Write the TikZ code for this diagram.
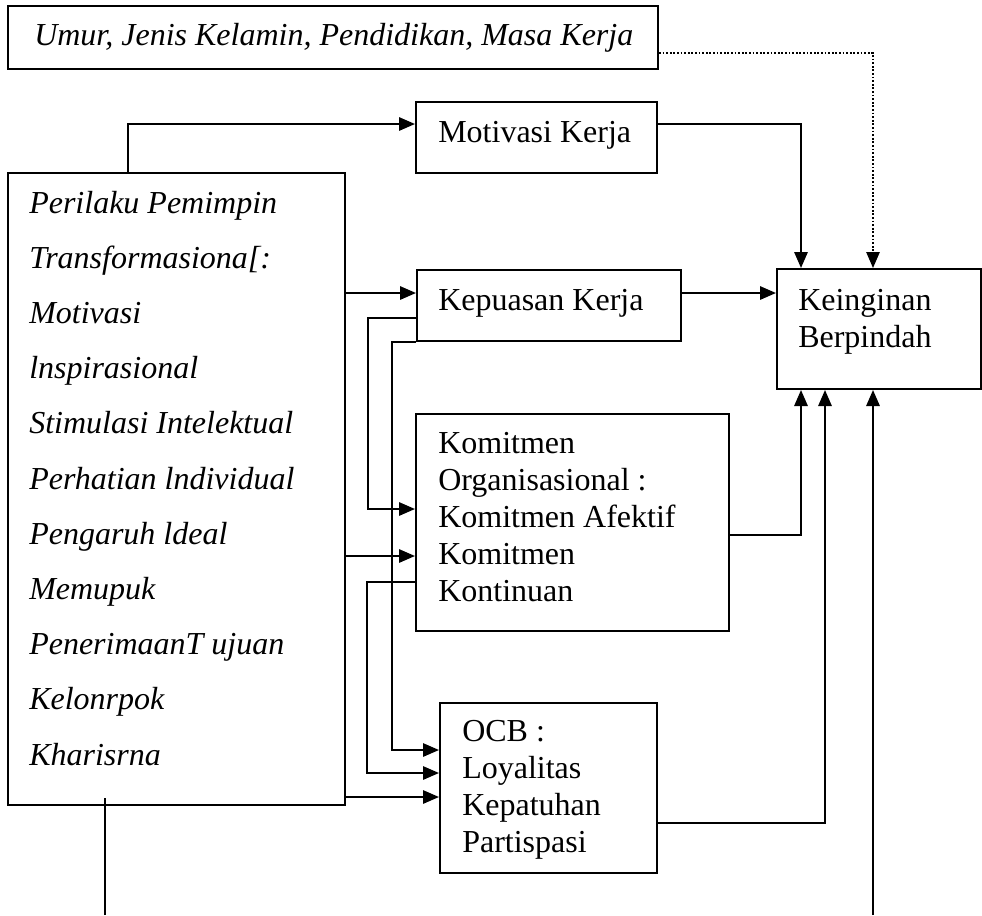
\documentclass[tikz,border=0pt]{standalone}
\usepackage{fontspec}
\setmainfont{Liberation Serif}
\usetikzlibrary{arrows.meta,fit,calc}
\begin{document}
\begin{tikzpicture}[x=0.75pt,y=-0.75pt,
  box/.style={draw, line width=1.5pt, inner sep=0pt},
  txt/.style={anchor=base west, inner sep=0pt, font=\fontsize{24}{27.75}\selectfont},
  itxt/.style={anchor=base west, inner sep=0pt, font=\fontsize{24}{41.4}\selectfont\itshape},
  arr/.style={line width=1.5pt, -{Triangle[length=12pt,width=10pt]}},
  ln/.style={line width=1.5pt},
  dots/.style={line width=1.3pt, dash pattern=on 1.3pt off 1.4pt}]
\useasboundingbox (0,0) rectangle (982,915);

% boxes
\node[box, fit={(8,6)(658,69)}] (top) {};
\node[box, fit={(416,102)(657,173)}] (mot) {};
\node[box, fit={(417,270)(681,341)}] (kep) {};
\node[box, fit={(416,414)(729,631)}] (kom) {};
\node[box, fit={(440,703)(657,873)}] (ocb) {};
\node[box, fit={(777,269)(981,389)}] (kei) {};
\node[box, fit={(8,173)(345,805)}] (left) {};

% texts
\node[txt, font=\fontsize{24}{27.75}\selectfont\itshape] (toptxt) at (34,45) {Umur, Jenis Kelamin, Pendidikan, Masa Kerja};
\node[txt] (mottxt) at (438,142) {Motivasi Kerja};
\node[txt] (keptxt) at (438,310) {Kepuasan Kerja};
\node[txt] (komtxt) at (438,453) {\parbox[t]{280pt}{Komitmen\\Organisasional :\\Komitmen Afektif\\Komitmen\\Kontinuan}};
\node[txt] (ocbtxt) at (462,741) {\parbox[t]{150pt}{OCB :\\Loyalitas\\Kepatuhan\\Partispasi}};
\node[txt] (keitxt) at (798,310) {\parbox[t]{150pt}{Keinginan\\Berpindah}};
\node[itxt] (lefttxt) at (29,213) {\parbox[t]{300pt}{Perilaku Pemimpin\\Transformasiona[:\\Motivasi\\lnspirasional\\Stimulasi Intelektual\\Perhatian lndividual\\Pengaruh ldeal\\Memupuk\\PenerimaanT ujuan\\Kelonrpok\\Kharisrna}};

% free ends at the bottom
\coordinate (b1) at (105,915);
\coordinate (b2) at (873,915);

% connectors
\draw[arr] (128,0 |- left.north) |- (mot.west |- 0,124);
\draw[arr] (left.east |- 0,293) -- (kep.west |- 0,293);
\draw[arr] (left.east |- 0,556) -- (kom.west |- 0,556);
\draw[arr] (left.east |- 0,797) -- (ocb.west |- 0,797);
\draw[arr] (kep.west |- 0,318) -- ++(-48,0) |- (kom.west |- 0,509);
\draw[arr] (kep.south west) -- ++(-24,0) |- (ocb.west |- 0,750);
\draw[arr] (kom.west |- 0,582) -- ++(-48,0) |- (ocb.west |- 0,773);
\draw[arr] (mot.east |- 0,124) -| (801,0 |- kei.north);
\draw[arr] (kep.east |- 0,293) -- (kei.west |- 0,293);
\draw[arr] (kom.east |- 0,535) -| (801,0 |- kei.south);
\draw[arr] (ocb.east |- 0,823) -| (825,0 |- kei.south);
\draw[arr, dots] (top.east |- 0,53) -| (873,0 |- kei.north);
\draw[arr] (b2) -- (873,0 |- kei.south);
\draw[ln] (b1) -- (105,798);
\end{tikzpicture}
\end{document}
